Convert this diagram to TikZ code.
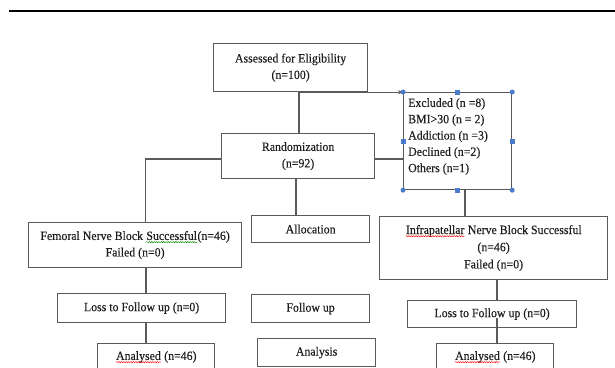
\documentclass[tikz,border=0pt]{standalone}
\usepackage{fontspec}
\setmainfont[FakeStretch=0.94,FakeBold=0.25]{Liberation Serif}
\usetikzlibrary{decorations.pathmorphing,arrows.meta}
\definecolor{boxline}{HTML}{5A5A5A}
\definecolor{handle}{HTML}{4A7CC9}
\definecolor{txt}{HTML}{1E1E1E}
\tikzset{
 box/.style={draw=boxline, line width=1.2pt, fill=white, inner sep=0pt, align=center,
   font=\fontsize{12.6}{16.5}\selectfont, text=txt, anchor=north west},
 conn/.style={draw=boxline, line width=1.1pt},
 hdot/.style={circle, fill=handle, inner sep=0pt, minimum size=5pt},
 hsq/.style={rectangle, fill=handle, inner sep=0pt, minimum size=5pt},
}
\newcommand\squig[2]{\tikz[baseline=(sqw.base)]{\node[inner sep=0pt,draw=none,fill=none,minimum width=0pt,minimum height=0pt,text width=,anchor=base west] (sqw) at (0,0) {#2};
 \draw[#1, line width=0.45pt, decorate, decoration={snake, amplitude=0.6pt, segment length=2.4pt}] ([yshift=-2.2pt]sqw.base west) -- ([yshift=-2.2pt]sqw.base east);}}
\begin{document}
\begin{tikzpicture}[x=1pt,y=-1pt]
\useasboundingbox (0,0) rectangle (615,367);
\clip (0,0) rectangle (615,367);
\fill[white] (0,0) rectangle (615,367);
\draw[line width=2.6pt, black] (9,11) -- (615,11);

% boxes
\node[box, minimum width=154pt, minimum height=48pt] (A) at (213,43) {Assessed for Eligibility\\(n=100)};
\node[box, minimum width=153pt, minimum height=45pt] (R) at (221,133) {Randomization\\(n=92)};
\node[box, minimum width=108pt, minimum height=97pt] (E) at (403,92) {};
\node[anchor=west, inner sep=0pt, align=left, text=txt, font=\fontsize{12.6}{16.3}\selectfont] (Et) at (408,136.5)
  {Excluded (n =8)\\BMI>30 (n = 2)\\Addiction (n =3)\\Declined (n=2)\\Others (n=1)};
\node[box, minimum width=213pt, minimum height=45pt] (F) at (28,222)
  {Femoral Nerve Block \squig{green!55!black}{Successful}(n=46)\\Failed (n=0)};
\node[box, minimum width=118pt, minimum height=27pt] (Al) at (251,215) {Allocation};
\node[box, minimum width=228pt, minimum height=63pt, font=\fontsize{12.6}{17.2}\selectfont] (I) at (379,216)
  {\squig{red}{Infrapatellar} Nerve Block Successful\\(n=46)\\Failed (n=0)};
\node[box, minimum width=168pt, minimum height=29pt] (L1) at (57,293) {Loss to Follow up (n=0)};
\node[box, minimum width=118pt, minimum height=28pt] (FU) at (251,294) {Follow up};
\node[box, minimum width=169pt, minimum height=27pt] (L2) at (407,300) {Loss to Follow up (n=0)};
\node[box, minimum width=117pt, minimum height=27pt] (An1) at (97,343) {\squig{red}{Analysed} (n=46)};
\node[box, minimum width=118pt, minimum height=28pt] (AS) at (257,338) {Analysis};
\node[box, minimum width=117pt, minimum height=27pt] (An2) at (436,343) {\squig{red}{Analysed} (n=46)};

% helper coordinates
\coordinate (ry) at (0,159);
\coordinate (lx) at (145.5,0);
\coordinate (lx2) at (146,0);
\coordinate (mx) at (299,0);
\coordinate (cx) at (296,0);
\coordinate (ex) at (465,0);
\coordinate (rx) at (497,0);
\coordinate (l2in) at (497,318);

% connectors
\draw[conn] (A.south -| mx) -- (R.north -| mx);
\draw[conn, -{Stealth[length=5pt,width=4pt]}] (A.south -| mx) -- (E.north west |- A.south);
\draw[conn] (R.east |- ry) -- (E.west |- ry);
\draw[conn] (R.west |- ry) -| (F.north -| lx);
\draw[conn] (R.south -| cx) -- (Al.north -| cx);
\draw[conn] (F.south -| lx2) -- (L1.north -| lx2);
\draw[conn] (L1.south -| lx2) -- (An1.north -| lx2);
\draw[conn] (E.south -| ex) -- (I.north -| ex);
\draw[conn] (I.south -| rx) -- (L2.north -| rx);
\draw[conn] (l2in) -- (An2.north -| rx);

% selection handles
\node[hdot] (h1) at (E.north west) {};
\node[hdot] (h2) at (E.north east) {};
\node[hdot] (h3) at (E.south west) {};
\node[hdot] (h4) at (E.south east) {};
\node[hsq] (h5) at (E.north) {};
\node[hsq] (h6) at (E.south) {};
\node[hsq] (h7) at (E.west) {};
\node[hsq] (h8) at (E.east) {};
\end{tikzpicture}
\end{document}
